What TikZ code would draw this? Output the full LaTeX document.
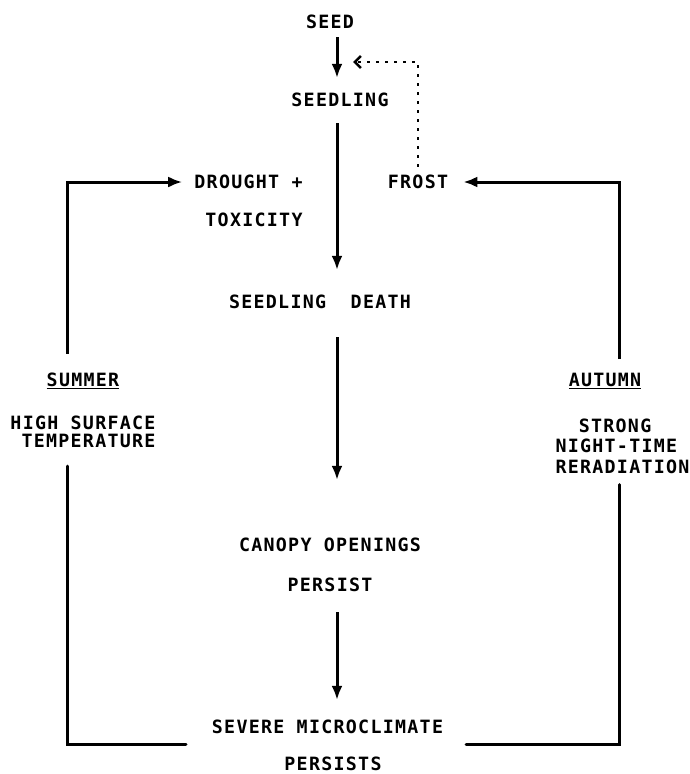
\documentclass[tikz,border=0pt]{standalone}
\usepackage{fontspec}
\newfontfamily\plotfont{DejaVu Sans Mono}[LetterSpace=7]
\usetikzlibrary{arrows.meta}
\tikzstyle{txt} = [font=\plotfont\bfseries\fontsize{18.3}{17}\selectfont, inner sep=0pt]
\tikzstyle{flow} = [line width=3pt, -{Latex[length=14pt,width=11pt]}]
\tikzstyle{wire} = [line width=3pt, line cap=round]
\tikzstyle{hint} = [line width=2.6pt, dash pattern=on 3pt off 6pt, -{Straight Barb[length=6pt,width=12pt,line width=2.6pt]}]

\begin{document}
\begin{tikzpicture}[x=1pt,y=-1pt]
        \useasboundingbox (0,0) rectangle (689,774);
        \coordinate (axis) at (337,0);
        \coordinate (lx) at (67,0);
        \coordinate (rx) at (619,0);
        \coordinate (lb) at (186,744);
        \coordinate (rb) at (466,744);
        \coordinate (back) at (353,62);
        \node (seed) [txt] at (330,22) {SEED};
        \node (seedling) [txt] at (340,100) {SEEDLING};
        \node (drought) [txt] at (248.5,182) {DROUGHT +};
        \node (toxic) [txt] at (254,220) {TOXICITY};
        \node (frost) [txt] at (418,182) {FROST};
        \node (death) [txt] at (320,302) {SEEDLING~~DEATH};
        \node (canopy) [txt] at (330,545) {CANOPY OPENINGS};
        \node (persist) [txt] at (330,585) {PERSIST};
        \node (severe) [txt] at (327.5,727) {SEVERE MICROCLIMATE};
        \node (persists) [txt] at (333,764) {PERSISTS};
        \node (summer) [txt] at (83,381) {\underline{SUMMER}};
        \node (hst) [txt, align=right, font=\plotfont\bfseries\fontsize{18.3}{18}\selectfont] at (83,432) {HIGH SURFACE\\TEMPERATURE};
        \node (autumn) [txt] at (605,381) {\underline{AUTUMN}};
        \node (snr) [txt, align=left, font=\plotfont\bfseries\fontsize{18.3}{20.5}\selectfont] at (622.5,446)
            {\phantom{NI}STRONG\\NIGHT-TIME\\RERADIATION};
        % main chain
        \draw[flow, shorten <=8pt, shorten >=15pt] (seed.south -| axis) -- (seedling.north -| axis);
        \draw[flow, shorten <=16pt, shorten >=25pt] (seedling.south -| axis) -- (death.north -| axis);
        \draw[flow, shorten <=28pt, shorten >=58pt] (death.south -| axis) -- (canopy.north -| axis);
        \draw[flow, shorten <=20pt, shorten >=20pt] (persist.south -| axis) -- (severe.north -| axis);
        % frost back to seedling
        \draw[hint, shorten <=8pt] (frost.north) |- (back);
        % summer loop
        \draw[flow, shorten <=19pt, shorten >=12pt] (summer.north -| lx) |- (drought.west);
        \draw[wire, shorten <=18pt] (hst.south -| lx) |- (lb);
        % autumn loop
        \draw[flow, shorten <=14pt, shorten >=15pt] (autumn.north -| rx) |- (frost.east);
        \draw[wire, shorten <=11pt] (snr.south -| rx) |- (rb);
    \end{tikzpicture}
\end{document}
